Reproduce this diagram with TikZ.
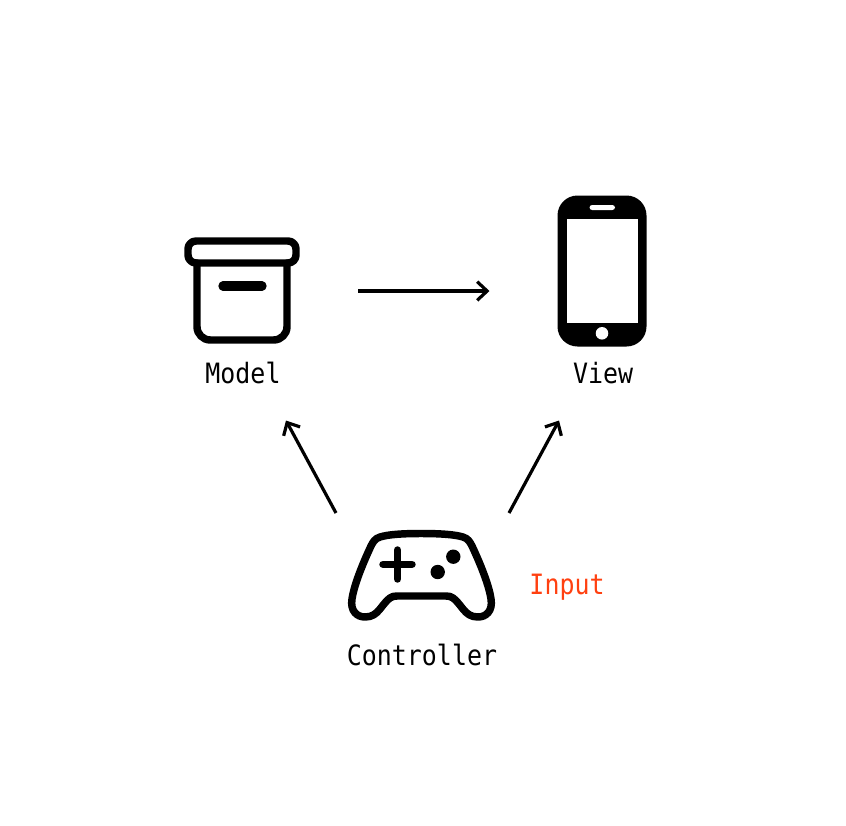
\documentclass[tikz,border=0pt]{standalone}
\usepackage{fontspec}
\setmonofont[FakeStretch=0.89]{DejaVu Sans Mono}
\usetikzlibrary{arrows.meta}
\definecolor{Ink}{HTML}{000000}
\definecolor{Signal}{HTML}{FF4010}
\tikzset{
  label/.style={font=\ttfamily\fontsize{21}{23}\selectfont,anchor=base,inner sep=0pt,text=Ink},
  flow/.style={-{Straight Barb[length=7.5pt,width=14pt,line width=2.4pt]},line width=2.4pt,Ink},
  icon/.style={draw=Ink,line width=5.6pt,line join=round,line cap=round},
}
\begin{document}
\begin{tikzpicture}[x=0.75pt,y=-0.75pt]
  \useasboundingbox (0,0) rectangle (846,825);
  % box
  \draw[icon,rounded corners=6pt] (188,241) rectangle (296,263);
  \draw[icon,rounded corners=10pt] (197,263) -- (197,340) -- (287,340) -- (287,263);
  \draw[icon,line width=7pt] (223,286) -- (262,286);
  % phone
  \fill[Ink,rounded corners=15pt] (557.5,195.5) rectangle (646.5,346.5);
  \fill[white] (566.5,218.5) rectangle (638,322.5);
  \fill[white,rounded corners=2pt] (589.5,205) rectangle (615,210);
  \fill[white] (602,333.3) circle (4.7pt);
  % gamepad
  \draw[icon] (421,533.5) .. controls (440,533.5) and (455,534.5) .. (463,537)
    .. controls (468,538.5) and (470,542) .. (472,546)
    .. controls (480,563) and (489,585) .. (491,599)
    .. controls (493,611) and (486,617) .. (478,617)
    .. controls (471,617) and (467,614) .. (463,609)
    .. controls (459,604) and (456,600) .. (453,598)
    .. controls (451,596.5) and (449,596) .. (446,596)
    -- (397,596)
    .. controls (394,596) and (392,596.5) .. (390,598)
    .. controls (387,600) and (384,604) .. (380,609)
    .. controls (376,614) and (372,617) .. (365,617)
    .. controls (357,617) and (350,611) .. (352,599)
    .. controls (354,585) and (363,563) .. (371,546)
    .. controls (373,542) and (375,538.5) .. (380,537)
    .. controls (388,534.5) and (402,533.5) .. (421,533.5) -- cycle;
  \draw[icon] (383,564.3) -- (412,564.3) (397.5,550) -- (397.5,579);
  \foreach \x/\y in {453.3/556.7,437.7/572}
    \fill[Ink] (\x,\y) circle (5.4pt);
  % labels
  \node[label] (model) at (243,383) {Model};
  \node[label] (view) at (603,383) {View};
  \node[label] (controller) at (422,665) {Controller};
  \node[label,text=Signal] (input) at (567,594) {Input};
  % arrows
  \coordinate (modelout) at (358,291);
  \coordinate (viewin) at (489.5,291);
  \coordinate (modelin) at (286,420.5);
  \coordinate (viewup) at (559,420.5);
  \coordinate (padleft) at (336,513);
  \coordinate (padright) at (509,513);
  \draw[flow] (modelout) -- (viewin);
  \draw[flow] (padleft) -- (modelin);
  \draw[flow] (padright) -- (viewup);
\end{tikzpicture}
\end{document}
